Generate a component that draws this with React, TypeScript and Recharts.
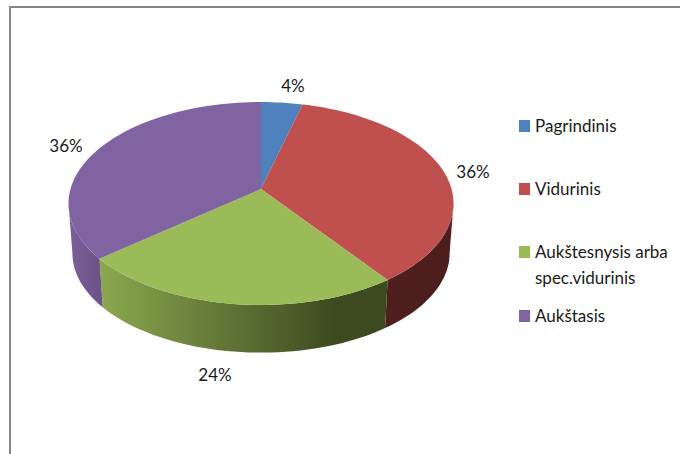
import { Legend, Pie, PieChart } from "recharts";

const categories = ["Pagrindinis", "Vidurinis", "Aukštesnysis arba spec.vidurinis", "Aukštasis"];
const shares = [4, 36, 24, 36];
const topColors = ["#4f81bd", "#c0504d", "#9bbb59", "#8064a2"];
// wall shading, left to right
const wallColors = [
  ["#3f6796", "#3f6796"],
  ["#4f1f1e", "#4c1e1c"],
  ["#8ba84f", "#3c4a20"],
  ["#7b5f9b", "#6c5488"],
];
const wallStops = ["0%", "82%"];
const rowTops = [113, 176, 239, 303];
const labelCentres = [
  [293, 85],
  [473, 171],
  [215, 374],
  [66, 145],
];

const chartData = categories.map((name, i) => ({ name, value: shares[i], fill: topColors[i], index: i }));

const FONT = "Lato, Carlito, sans-serif";

// perspective of the tilted disc
const APEX_X = 261;
const APEX_Y = 189;
const RX = 190.5;
const RY = 99.4;
const TILT = 1 / 7;
const DROP = 50;
const SHRINK = 0.98;
// clock angles where the disc is widest, the wall is only seen between them
const WALL_FROM = 98.2;
const WALL_TO = 261.8;

function rim(clockDeg: number) {
  const t = (clockDeg * Math.PI) / 180;
  const w = 1 + TILT * Math.cos(t);
  return { x: APEX_X + (RX * Math.sin(t)) / w, y: APEX_Y - (RY * Math.cos(t)) / w };
}

function arcPoints(from: number, to: number) {
  const steps = Math.max(2, Math.ceil(Math.abs(to - from) / 2));
  return Array.from({ length: steps + 1 }, (_, k) => rim(from + ((to - from) * k) / steps));
}

function TopFace(props: any) {
  const pts = arcPoints(90 - props.startAngle, 90 - props.endAngle);
  const d = `M${APEX_X},${APEX_Y} ` + pts.map((p) => `L${p.x.toFixed(1)},${p.y.toFixed(1)}`).join(" ") + " Z";
  return <path d={d} fill={props.fill} />;
}

function WallFace(props: any) {
  const from = Math.max(90 - props.startAngle, WALL_FROM);
  const to = Math.min(90 - props.endAngle, WALL_TO);
  if (to <= from) return null;
  const pts = arcPoints(from, to);
  const lower = pts
    .map((p) => ({
      x: APEX_X + (p.x - APEX_X) * SHRINK,
      y: APEX_Y + (p.y - APEX_Y) * SHRINK + DROP,
    }))
    .reverse();
  const d = [...pts, ...lower].map((p, k) => `${k ? "L" : "M"}${p.x.toFixed(1)},${p.y.toFixed(1)}`).join(" ") + " Z";
  const id = `wall-${props.index}`;
  const stops = wallColors[props.index];
  return (
    <g>
      <defs>
        <linearGradient id={id} x1="0" y1="0" x2="1" y2="0">
          <stop offset={wallStops[0]} stopColor={stops[0]} />
          <stop offset={wallStops[1]} stopColor={stops[1]} />
        </linearGradient>
      </defs>
      <path d={d} fill={`url(#${id})`} />
    </g>
  );
}

function SliceLabel(props: any) {
  const [x, y] = labelCentres[props.index];
  return (
    <text x={x} y={y} textAnchor="middle" dominantBaseline="central" fontFamily={FONT} fontSize={17} fill="#1a1a1a">
      {`${Math.round(props.percent * 100)}%`}
    </text>
  );
}

function LegendRows() {
  return (
    <div style={{ position: "relative", width: 160, height: 240, fontFamily: FONT, fontSize: 17, color: "#1a1a1a" }}>
      {categories.map((name, i) => (
        <div key={name} style={{ position: "absolute", top: rowTops[i] - 110, left: 0, display: "flex", lineHeight: "26px" }}>
          <span style={{ width: 11, height: 12, marginTop: 7, marginRight: 5, background: topColors[i], flex: "none" }} />
          <span style={{ width: 145 }}>{name}</span>
        </div>
      ))}
    </div>
  );
}

export default function App() {
  return (
    <div style={{ position: "absolute", left: 0, top: 0, width: 680, height: 454, background: "#fff", overflow: "hidden" }}>
      <div style={{ position: "absolute", left: 9, top: 6, width: 680, height: 460, borderLeft: "2px solid #868686", borderTop: "2px solid #868686" }} />
      <PieChart width={680} height={454} style={{ position: "absolute", left: 0, top: 0 }}>
        <Pie
          data={chartData}
          dataKey="value"
          nameKey="name"
          cx={APEX_X}
          cy={APEX_Y}
          outerRadius={RX}
          startAngle={90}
          endAngle={-270}
          stroke="none"
          legendType="none"
          isAnimationActive={false}
          shape={WallFace}
        />
        <Pie
          data={chartData}
          dataKey="value"
          nameKey="name"
          cx={APEX_X}
          cy={APEX_Y}
          outerRadius={RX}
          startAngle={90}
          endAngle={-270}
          stroke="none"
          isAnimationActive={false}
          shape={TopFace}
          label={SliceLabel}
          labelLine={false}
        />
        <Legend
          layout="vertical"
          align="left"
          verticalAlign="top"
          wrapperStyle={{ left: 519, top: 110, width: 160 }}
          content={LegendRows}
        />
      </PieChart>
    </div>
  );
}
